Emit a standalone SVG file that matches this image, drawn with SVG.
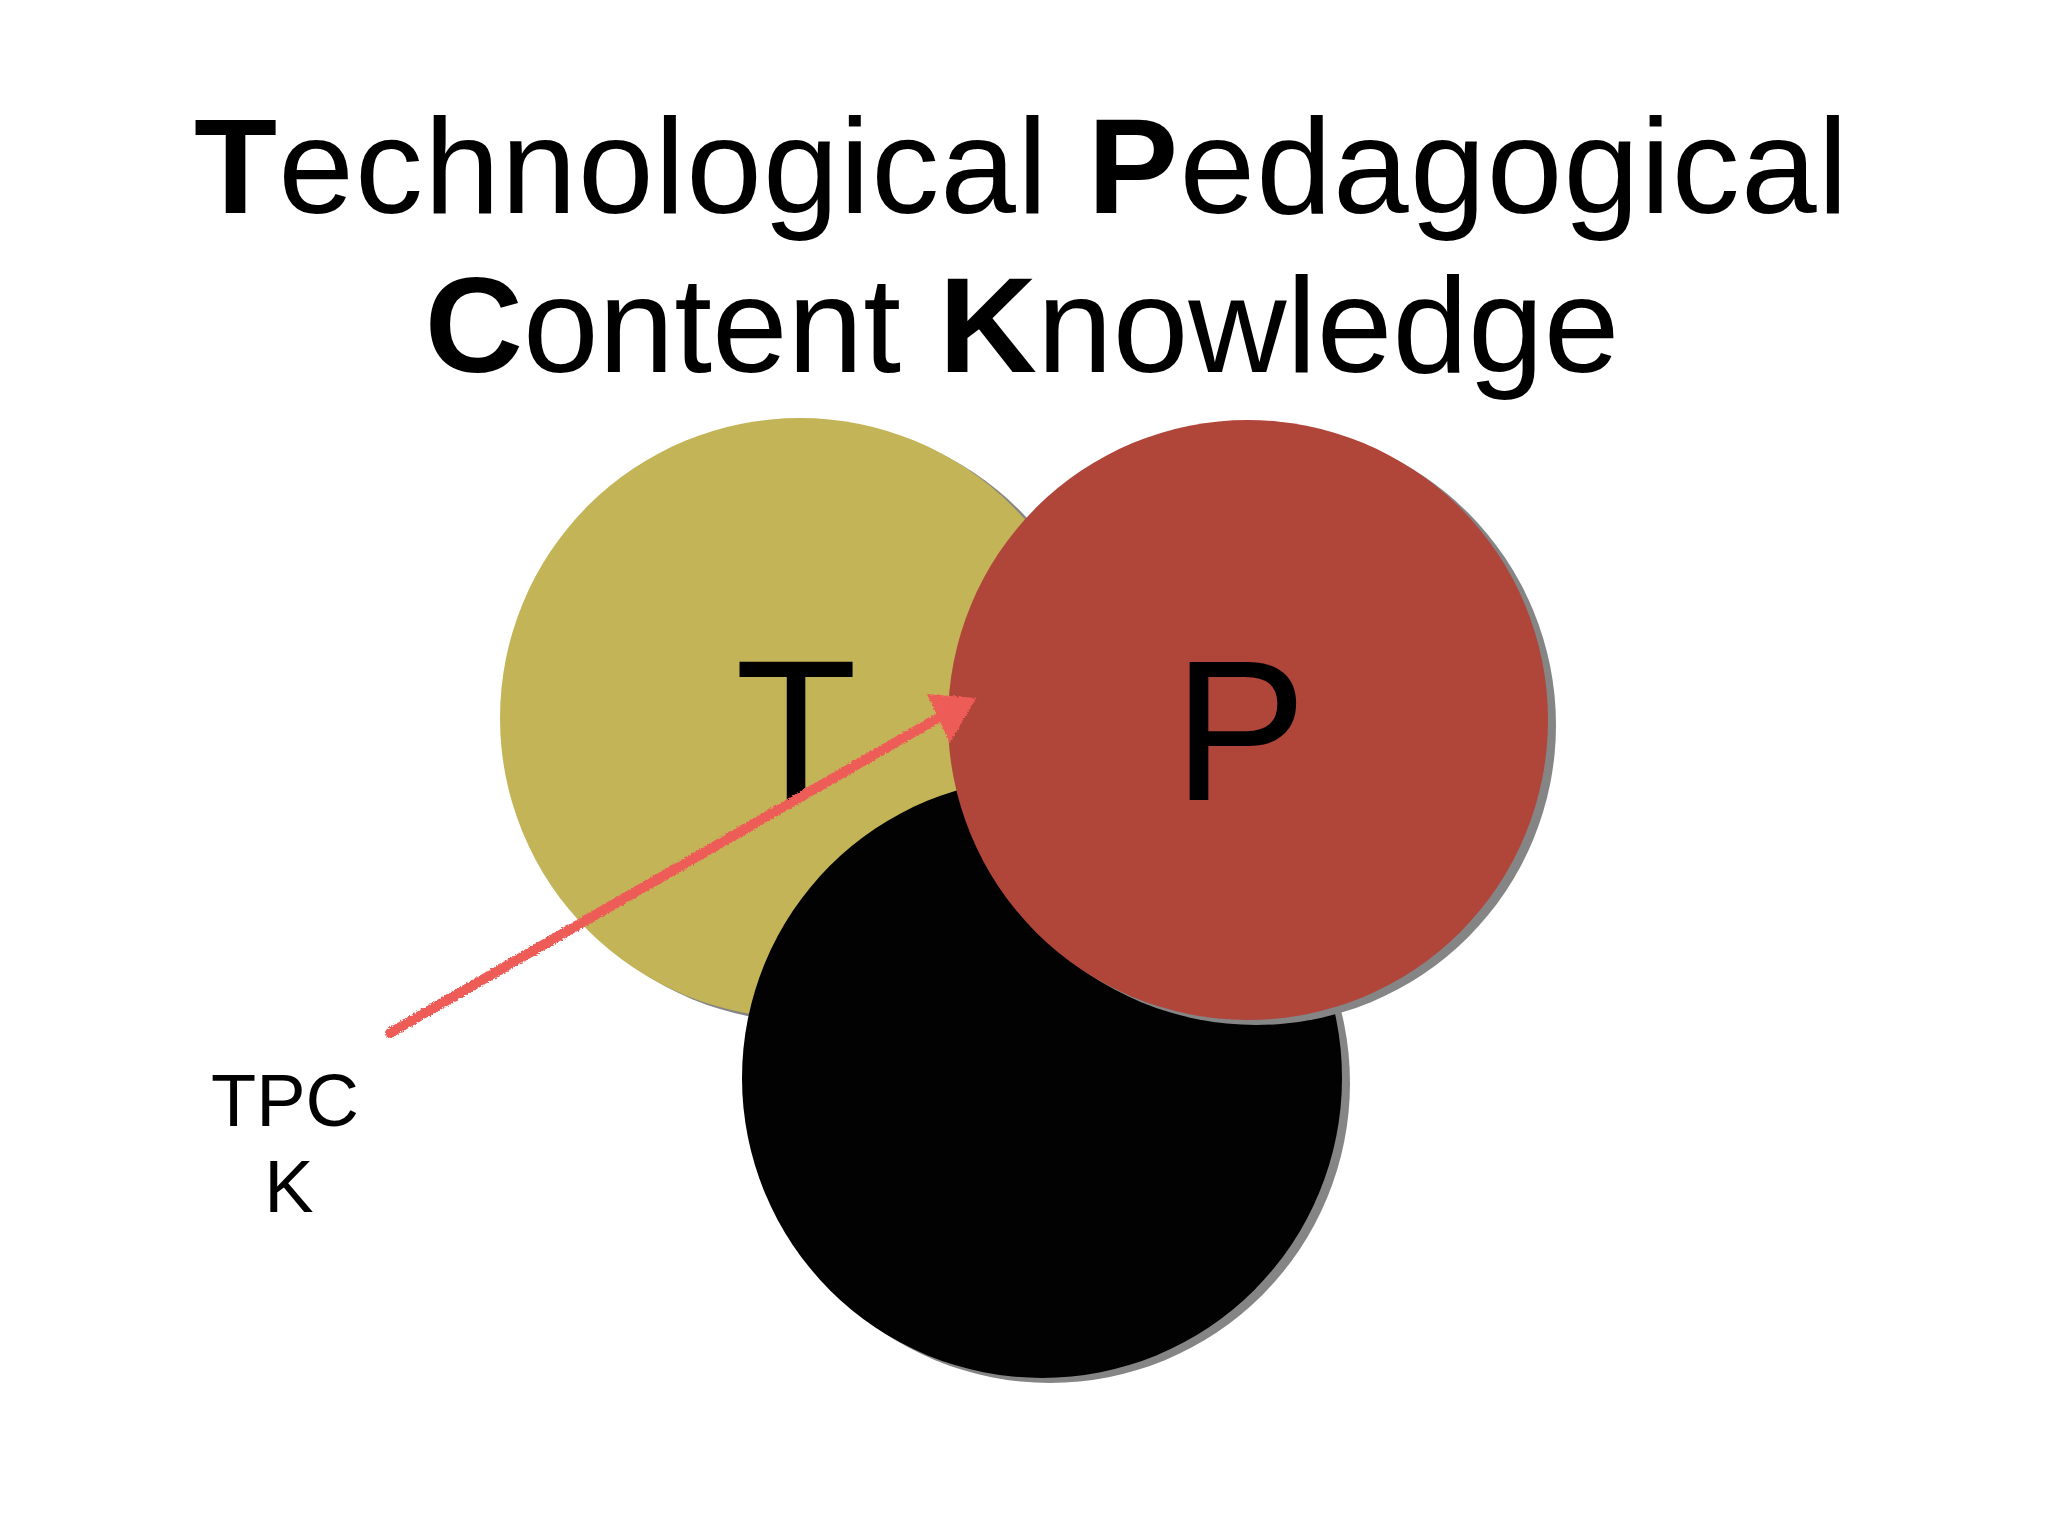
<svg xmlns="http://www.w3.org/2000/svg" width="2048" height="1536" viewBox="0 0 2048 1536">
  <defs>
    <style>
      .title { font-family: "Liberation Sans", Arial, sans-serif; font-size: 136px; fill: #000; }
      .bold { font-weight: bold; }
      .big { font-family: "Liberation Sans", Arial, sans-serif; font-size: 200px; fill: #000; text-anchor: middle; }
      .label { font-family: "Liberation Sans", Arial, sans-serif; font-size: 74px; fill: #000; text-anchor: middle; }
      .shadow { fill: #858585; }
      .crayon { stroke: #EE5C58; stroke-width: 10; fill: none; stroke-linecap: round; }
    </style>
    <filter id="rough" x="-10%" y="-10%" width="120%" height="120%">
      <feTurbulence type="fractalNoise" baseFrequency="0.6" numOctaves="2" seed="3" result="n"/>
      <feDisplacementMap in="SourceGraphic" in2="n" scale="4" xChannelSelector="R" yChannelSelector="G"/>
    </filter>
  </defs>
  <rect width="2048" height="1536" fill="#ffffff"/>

  <g id="title">
    <text class="title" x="194" y="213" textLength="1654" lengthAdjust="spacing"><tspan class="bold">T</tspan>echnological <tspan class="bold">P</tspan>edagogical</text>
    <text class="title" x="1022" y="372" text-anchor="middle"><tspan class="bold">C</tspan>ontent <tspan class="bold">K</tspan>nowledge</text>
  </g>

  <g id="node-T">
    <circle class="shadow" cx="807" cy="722" r="300"/>
    <circle cx="800" cy="718" r="300" fill="#C4B458"/>
    <text class="big" x="796" y="800">T</text>
  </g>

  <g id="node-C">
    <circle class="shadow" cx="1050" cy="1083" r="300"/>
    <circle cx="1042" cy="1078" r="300" fill="#030203"/>
  </g>

  <g id="node-P">
    <circle class="shadow" cx="1256" cy="725" r="300"/>
    <circle cx="1248" cy="720" r="300" fill="#B0453A"/>
    <text class="big" x="1240" y="800">P</text>
  </g>

  <g id="label-TPCK">
    <text class="label" x="285" y="1126">TPC</text>
    <text class="label" x="289" y="1212">K</text>
  </g>

  <g id="connectors" filter="url(#rough)">
    <line class="crayon" x1="390" y1="1033" x2="945" y2="714"/>
    <polygon points="927,694 976,698 950,743" fill="#EE5C58"/>
  </g>
</svg>
